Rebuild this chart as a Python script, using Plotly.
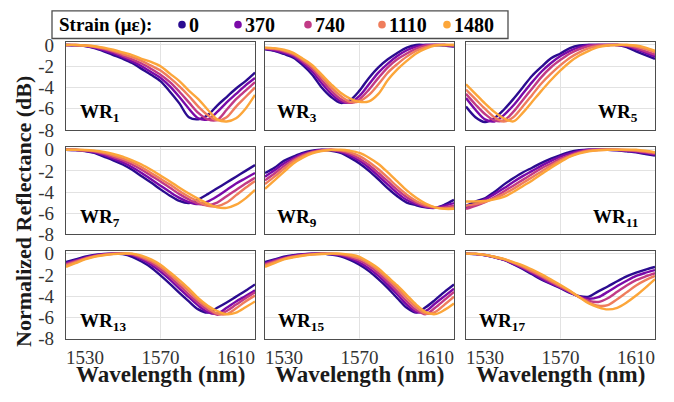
import plotly.graph_objects as go

# ---------------- data ----------------
WAVELENGTH = list(range(1520, 1621, 5))  # nm
STRAINS = ["0", "370", "740", "1110", "1480"]
COLORS = ["#2b0c90", "#7a0aa8", "#c13a86", "#ef7d5c", "#fca63a"]
PANEL_SUBS = ["1", "3", "5", "7", "9", "11", "13", "15", "17"]
X_TICKS = [1530, 1570, 1610]
Y_TICKS = [0, -2, -4, -6, -8]

WR1 = [
    [0, -0.03, -0.1, -0.3, -0.6, -0.95, -1.3, -1.7, -2.25, -2.8, -3.4, -4.4, -5.5, -6.8, -7.0, -6.6, -5.7, -4.9, -4.1, -3.4, -2.6],
    [0, -0.02, -0.08, -0.25, -0.5, -0.8, -1.15, -1.55, -2.0, -2.55, -3.1, -3.9, -4.9, -6.0, -6.9, -7.0, -6.3, -5.4, -4.6, -3.8, -3.1],
    [0, -0.01, -0.06, -0.2, -0.4, -0.65, -1.0, -1.35, -1.75, -2.25, -2.8, -3.5, -4.4, -5.4, -6.4, -7.0, -7.05, -6.1, -5.1, -4.3, -3.5],
    [0, 0, -0.05, -0.15, -0.32, -0.55, -0.85, -1.15, -1.5, -1.95, -2.4, -3.1, -3.9, -4.8, -5.8, -6.6, -7.1, -6.8, -5.8, -4.9, -4.0],
    [0, 0, -0.05, -0.12, -0.25, -0.45, -0.7, -0.95, -1.3, -1.6, -2.0, -2.7, -3.4, -4.3, -5.1, -6.1, -7.0, -7.2, -6.9, -6.0, -4.7],
]
WR3 = [
    [-0.4, -0.55, -0.85, -1.2, -1.9, -2.8, -4.0, -4.9, -5.45, -5.2, -4.3, -3.1, -2.1, -1.35, -0.75, -0.25, 0, 0, 0, -0.05, -0.15],
    [-0.35, -0.5, -0.75, -1.05, -1.7, -2.5, -3.6, -4.6, -5.3, -5.4, -4.8, -3.7, -2.6, -1.75, -1.05, -0.5, -0.15, 0, 0, 0, -0.1],
    [-0.3, -0.42, -0.62, -0.95, -1.55, -2.25, -3.3, -4.3, -5.1, -5.45, -5.1, -4.2, -3.1, -2.1, -1.35, -0.8, -0.35, -0.05, 0, 0, -0.05],
    [-0.28, -0.35, -0.52, -0.85, -1.4, -2.05, -3.0, -4.0, -4.8, -5.35, -5.3, -4.7, -3.7, -2.6, -1.8, -1.1, -0.55, -0.2, 0, 0, 0],
    [-0.25, -0.3, -0.45, -0.75, -1.3, -1.9, -2.8, -3.7, -4.5, -5.05, -5.35, -5.3, -4.6, -3.3, -2.3, -1.5, -0.8, -0.35, -0.05, 0, 0],
]
WR5 = [
    [-5.8, -6.8, -7.25, -6.9, -6.1, -5.1, -4.0, -2.9, -2.05, -1.25, -0.8, -0.3, -0.05, 0, 0, 0, 0, -0.2, -0.6, -0.95, -1.3],
    [-5.0, -6.1, -7.0, -7.2, -6.6, -5.7, -4.6, -3.5, -2.5, -1.7, -1.05, -0.55, -0.2, 0, 0, 0, 0, -0.1, -0.4, -0.75, -1.1],
    [-4.6, -5.6, -6.5, -7.1, -7.1, -6.3, -5.2, -4.1, -3.0, -2.1, -1.4, -0.8, -0.4, -0.1, 0, 0, 0, -0.05, -0.3, -0.6, -0.9],
    [-4.2, -5.1, -6.0, -6.8, -7.2, -6.8, -5.8, -4.7, -3.6, -2.7, -1.9, -1.2, -0.7, -0.3, -0.1, 0, 0, 0, -0.15, -0.4, -0.7],
    [-3.7, -4.6, -5.5, -6.3, -6.9, -7.2, -6.4, -5.35, -4.3, -3.3, -2.4, -1.6, -1.0, -0.55, -0.2, -0.05, 0, 0, -0.05, -0.25, -0.55],
]
WR7 = [
    [0, -0.03, -0.12, -0.3, -0.65, -1.0, -1.4, -1.9, -2.5, -3.1, -3.75, -4.35, -4.85, -5.05, -4.7, -4.2, -3.65, -3.1, -2.55, -2.0, -1.45],
    [0, -0.02, -0.1, -0.25, -0.5, -0.85, -1.2, -1.65, -2.2, -2.8, -3.4, -4.0, -4.55, -4.95, -5.15, -4.9, -4.4, -3.8, -3.2, -2.7, -2.2],
    [0, -0.01, -0.07, -0.18, -0.4, -0.7, -1.0, -1.4, -1.9, -2.45, -3.0, -3.6, -4.2, -4.7, -5.1, -5.25, -5.0, -4.4, -3.8, -3.2, -2.65],
    [0, 0, -0.04, -0.12, -0.3, -0.55, -0.85, -1.2, -1.65, -2.2, -2.75, -3.3, -3.9, -4.45, -4.9, -5.3, -5.35, -5.0, -4.3, -3.6, -2.95],
    [0, 0, -0.02, -0.08, -0.2, -0.4, -0.65, -1.0, -1.4, -1.9, -2.45, -3.0, -3.6, -4.15, -4.65, -5.1, -5.45, -5.5, -5.2, -4.6, -3.8],
]
WR9 = [
    [-2.2, -1.7, -1.05, -0.65, -0.3, -0.1, 0, -0.1, -0.3, -0.75, -1.3, -2.0, -2.8, -3.65, -4.4, -5.0, -5.25, -5.45, -5.5, -5.2, -4.75],
    [-2.55, -1.95, -1.3, -0.8, -0.4, -0.15, -0.03, -0.03, -0.2, -0.55, -1.05, -1.7, -2.5, -3.3, -4.1, -4.75, -5.15, -5.4, -5.5, -5.3, -5.05],
    [-2.9, -2.25, -1.55, -0.95, -0.5, -0.2, -0.05, 0, -0.12, -0.4, -0.85, -1.45, -2.2, -3.0, -3.8, -4.5, -5.0, -5.35, -5.5, -5.45, -5.3],
    [-3.25, -2.55, -1.8, -1.1, -0.6, -0.25, -0.08, 0, -0.06, -0.25, -0.6, -1.15, -1.85, -2.65, -3.5, -4.25, -4.85, -5.25, -5.45, -5.55, -5.45],
    [-3.7, -2.9, -2.1, -1.3, -0.75, -0.35, -0.12, -0.03, 0, -0.1, -0.3, -0.75, -1.35, -2.15, -3.0, -3.85, -4.55, -5.1, -5.45, -5.6, -5.6],
]
WR11 = [
    [-5.3, -4.9, -4.6, -4.0, -3.3, -2.7, -2.15, -1.7, -1.25, -0.85, -0.5, -0.2, -0.05, 0, 0, 0, -0.05, -0.15, -0.25, -0.4, -0.55],
    [-5.5, -5.1, -4.7, -4.2, -3.65, -3.05, -2.5, -2.0, -1.5, -1.05, -0.65, -0.35, -0.12, 0, 0, 0, -0.03, -0.1, -0.2, -0.32, -0.45],
    [-5.6, -5.3, -4.95, -4.5, -3.95, -3.4, -2.85, -2.3, -1.75, -1.3, -0.85, -0.5, -0.2, -0.05, 0, 0, 0, -0.05, -0.12, -0.25, -0.38],
    [-5.3, -5.15, -4.95, -4.6, -4.2, -3.7, -3.15, -2.6, -2.05, -1.5, -1.0, -0.6, -0.3, -0.1, -0.02, 0, 0, -0.02, -0.08, -0.18, -0.3],
    [-4.9, -4.9, -4.85, -4.7, -4.45, -4.0, -3.45, -2.9, -2.3, -1.7, -1.15, -0.65, -0.35, -0.15, -0.05, 0, 0, 0, 0, -0.1, -0.25],
]
WR13 = [
    [-0.8, -0.55, -0.3, -0.12, -0.03, 0, -0.05, -0.3, -0.75, -1.3, -2.05, -2.85, -3.7, -4.5, -5.25, -5.55, -5.1, -4.6, -4.05, -3.5, -2.9],
    [-0.9, -0.65, -0.38, -0.18, -0.05, 0, 0, -0.15, -0.55, -1.05, -1.7, -2.45, -3.3, -4.1, -4.9, -5.5, -5.65, -5.1, -4.5, -4.0, -3.45],
    [-1.0, -0.72, -0.45, -0.22, -0.08, -0.01, 0, -0.08, -0.4, -0.85, -1.45, -2.2, -3.0, -3.85, -4.65, -5.3, -5.75, -5.4, -4.8, -4.2, -3.65],
    [-1.1, -0.8, -0.5, -0.26, -0.12, -0.03, 0, -0.03, -0.3, -0.7, -1.25, -1.95, -2.75, -3.55, -4.4, -5.1, -5.65, -5.7, -5.15, -4.5, -3.95],
    [-1.25, -0.9, -0.55, -0.3, -0.15, -0.05, 0, 0, -0.2, -0.55, -1.05, -1.75, -2.5, -3.3, -4.2, -4.9, -5.4, -5.7, -5.55, -5.05, -4.5],
]
WR15 = [
    [-0.8, -0.55, -0.3, -0.15, -0.06, -0.01, 0, -0.1, -0.25, -0.6, -1.05, -1.65, -2.4, -3.25, -4.2, -5.1, -5.55, -5.05, -4.35, -3.6, -2.9],
    [-0.9, -0.62, -0.38, -0.2, -0.09, -0.02, 0, -0.05, -0.17, -0.45, -0.85, -1.4, -2.1, -2.95, -3.85, -4.8, -5.5, -5.4, -4.7, -4.0, -3.3],
    [-1.0, -0.7, -0.45, -0.25, -0.12, -0.04, 0, -0.02, -0.1, -0.32, -0.65, -1.15, -1.85, -2.65, -3.55, -4.5, -5.3, -5.7, -5.1, -4.35, -3.6],
    [-1.1, -0.8, -0.5, -0.3, -0.16, -0.07, -0.02, 0, -0.05, -0.2, -0.48, -0.95, -1.6, -2.4, -3.25, -4.2, -5.05, -5.65, -5.5, -4.8, -4.05],
    [-1.25, -0.9, -0.55, -0.35, -0.2, -0.1, -0.04, 0, 0, -0.1, -0.3, -0.8, -1.4, -2.2, -3.0, -3.9, -4.8, -5.5, -5.7, -5.3, -4.7],
]
WR17 = [
    [0, -0.05, -0.15, -0.35, -0.6, -1.0, -1.45, -1.95, -2.45, -2.85, -3.25, -3.7, -4.0, -4.05, -3.55, -3.1, -2.6, -2.15, -1.8, -1.5, -1.25],
    [0, -0.04, -0.14, -0.33, -0.57, -0.95, -1.38, -1.85, -2.35, -2.8, -3.2, -3.65, -4.05, -4.25, -4.1, -3.6, -3.05, -2.55, -2.1, -1.8, -1.55],
    [0, -0.03, -0.13, -0.32, -0.55, -0.9, -1.3, -1.75, -2.2, -2.7, -3.15, -3.6, -4.1, -4.45, -4.55, -4.2, -3.6, -3.0, -2.5, -2.15, -1.85],
    [0, -0.03, -0.12, -0.3, -0.52, -0.85, -1.2, -1.65, -2.1, -2.6, -3.05, -3.55, -4.1, -4.6, -4.9, -4.85, -4.3, -3.65, -3.0, -2.5, -2.1],
    [0, -0.02, -0.12, -0.3, -0.5, -0.8, -1.1, -1.5, -1.95, -2.45, -2.95, -3.5, -4.1, -4.7, -5.05, -5.25, -5.1, -4.6, -3.95, -3.2, -2.4],
]
PANELS = [WR1, WR3, WR5, WR7, WR9, WR11, WR13, WR15, WR17]

# ---------------- layout helpers ----------------
W, H = 674, 402
SERIF = "Liberation Serif"
COL_PX = [(66, 255), (265, 454), (466, 655)]
ROW_PX = [(36, 128), (146, 237.5), (255, 347)]
LABEL_POS = [  # (x in domain, anchor)
    (0.063, "left"), (0.053, "left"), (0.92, "right"),
    (0.063, "left"), (0.053, "left"), (0.92, "right"),
    (0.063, "left"), (0.058, "left"), (0.058, "left"),
]

fig = go.Figure()
layout = {}
shapes = []
annotations = []

for i, data in enumerate(PANELS):
    r, c = divmod(i, 3)
    n = i + 1
    sfx = "" if n == 1 else str(n)
    xa, ya = "x" + sfx, "y" + sfx
    for s in range(len(STRAINS)):
        fig.add_trace(go.Scatter(
            x=WAVELENGTH, y=data[s], mode="lines",
            line=dict(color=COLORS[s], width=2.4, shape="spline", smoothing=0.9),
            xaxis=xa, yaxis=ya, showlegend=False, hoverinfo="skip",
        ))
    x0, x1 = COL_PX[c]
    y0, y1 = ROW_PX[r]
    common_line = dict(showline=True, mirror=True, linecolor="#4d4d4d", linewidth=1.3,
                       zeroline=False, ticks="",
                       tickfont=dict(family=SERIF, size=19, color="#333333"))
    layout["xaxis" + sfx] = dict(
        domain=[x0 / W, x1 / W], anchor=ya, range=[1520, 1620],
        tickvals=X_TICKS, showticklabels=(r == 2), showgrid=False,
        ticklabelstandoff=1, **common_line)
    layout["yaxis" + sfx] = dict(
        domain=[1 - y1 / H, 1 - y0 / H], anchor=xa, range=[-8, 0.25],
        tickvals=Y_TICKS, ticktext=[str(v) for v in Y_TICKS],
        showticklabels=(c == 0), showgrid=True, gridcolor="#e2e2e2", gridwidth=1,
        ticklabelstandoff=7, **common_line)
    shapes.append(dict(type="line", xref=xa, yref=ya + " domain", x0=1570, x1=1570,
                       y0=0, y1=1, layer="below", line=dict(color="#e2e2e2", width=1)))
    lx, anc = LABEL_POS[i]
    annotations.append(dict(
        text="<b>WR<sub>" + PANEL_SUBS[i] + "</sub></b>", xref=xa + " domain", yref=ya + " domain",
        x=lx, y=0.19, xanchor=anc, yanchor="middle", showarrow=False,
        font=dict(family=SERIF, size=19, color="black")))

# axis titles
for c in range(3):
    x0, x1 = COL_PX[c]
    annotations.append(dict(text="<b>Wavelength (nm)</b>", xref="paper", yref="paper",
                            x=(x0 + x1) / 2 / W, y=1 - 385 / H, xanchor="center", yanchor="middle",
                            showarrow=False, font=dict(family=SERIF, size=23, color="#1a1a1a")))
annotations.append(dict(text="<b>Normalized Reflectance (dB)</b>", xref="paper", yref="paper",
                        x=24 / W, y=1 - 214 / H, textangle=-90, xanchor="center", yanchor="middle",
                        showarrow=False, font=dict(family=SERIF, size=22, color="#1a1a1a")))

# legend box
LEG_Y = 17.5
shapes.append(dict(type="rect", xref="paper", yref="paper", x0=52 / W, x1=508 / W,
                   y0=1 - 32 / H, y1=1 - 3 / H, line=dict(color="#4d4d4d", width=1.3),
                   fillcolor="white"))
annotations.append(dict(text="<b>Strain (με):</b>", xref="paper", yref="paper",
                        x=57 / W, y=1 - LEG_Y / H, xanchor="left", yanchor="middle",
                        showarrow=False, font=dict(family=SERIF, size=19, color="black")))
LEG_DOT_PX = [182, 238, 308, 382, 447]
for s, lab in enumerate(STRAINS):
    px = LEG_DOT_PX[s]
    shapes.append(dict(type="circle", xref="paper", yref="paper", xsizemode="pixel", ysizemode="pixel",
                       xanchor=px / W, yanchor=1 - LEG_Y / H, x0=-3.8, x1=3.8, y0=-3.8, y1=3.8,
                       fillcolor=COLORS[s], line=dict(width=0)))
    annotations.append(dict(text="<b>" + lab + "</b>", xref="paper", yref="paper",
                            x=(px + 5) / W, y=1 - LEG_Y / H, xanchor="left", yanchor="middle",
                            showarrow=False, font=dict(family=SERIF, size=20, color="black")))

fig.update_layout(width=W, height=H, margin=dict(l=0, r=0, t=0, b=0),
                  paper_bgcolor="white", plot_bgcolor="white",
                  font=dict(family=SERIF),
                  shapes=shapes, annotations=annotations, **layout)
fig.write_html("out.html")
